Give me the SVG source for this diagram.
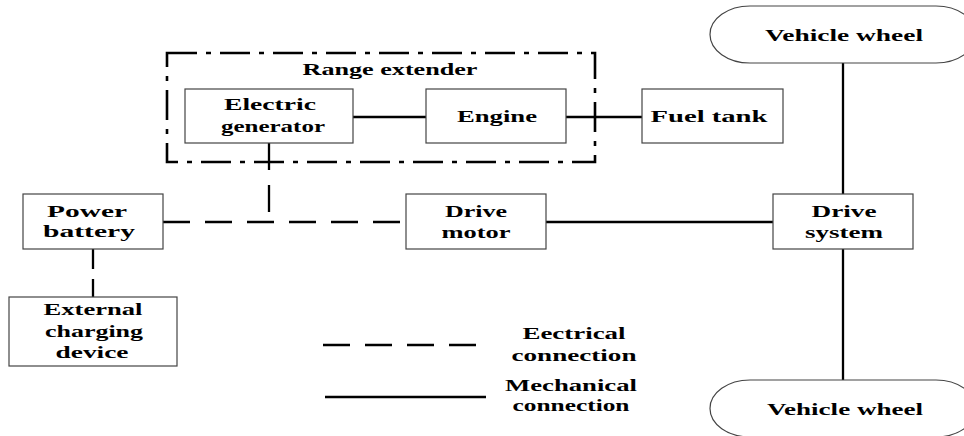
<svg xmlns="http://www.w3.org/2000/svg" width="964" height="436" viewBox="0 0 964 436">
<style>
text{font-family:"Liberation Serif","Times New Roman",serif;font-weight:bold;font-size:17.5px;fill:#000;text-anchor:middle}
.box{fill:#fff;stroke:#444;stroke-width:1.2}
.solid{fill:none;stroke:#000;stroke-width:2.3}
.dash{fill:none;stroke:#000;stroke-width:2.3;stroke-dasharray:27 15}
.frame{fill:none;stroke:#000;stroke-width:2.6;stroke-dasharray:30 9 5 9}
</style>
<rect width="964" height="436" fill="#fff"/>
<g id="connectors">
<path class="solid" d="M353 117H426"/>
<path class="solid" d="M566 117H642"/>
<path class="dash" d="M269 143V222"/>
<path class="dash" d="M163 222H406"/>
<path class="dash" d="M93 249V297" style="stroke-dasharray:20 10"/>
<path class="solid" d="M546 222H773"/>
<path class="solid" d="M843 63V194"/>
<path class="solid" d="M843 249V380"/>
</g>
<g id="range-extender">
<rect class="frame" x="167" y="53" width="428" height="109"/>
<text x="390" y="75" textLength="175" lengthAdjust="spacingAndGlyphs">Range extender</text>
</g>
<g id="electric-generator">
<rect class="box" x="185" y="89" width="168" height="54"/>
<text x="270" y="110" textLength="92" lengthAdjust="spacingAndGlyphs">Electric</text>
<text x="273" y="132" textLength="104" lengthAdjust="spacingAndGlyphs">generator</text>
</g>
<g id="engine">
<rect class="box" x="426" y="89" width="140" height="54"/>
<text x="497" y="122" textLength="80" lengthAdjust="spacingAndGlyphs">Engine</text>
</g>
<g id="fuel-tank">
<rect class="box" x="642" y="89" width="141" height="54"/>
<text x="709" y="122" textLength="117" lengthAdjust="spacingAndGlyphs">Fuel tank</text>
</g>
<g id="power-battery">
<rect class="box" x="23" y="194" width="140" height="55"/>
<text x="87" y="217" textLength="80" lengthAdjust="spacingAndGlyphs">Power</text>
<text x="89" y="237" textLength="92" lengthAdjust="spacingAndGlyphs">battery</text>
</g>
<g id="external-charging-device">
<rect class="box" x="9" y="297" width="168" height="69"/>
<text x="93" y="315" textLength="99" lengthAdjust="spacingAndGlyphs">External</text>
<text x="94" y="337" textLength="98" lengthAdjust="spacingAndGlyphs">charging</text>
<text x="92" y="358" textLength="73" lengthAdjust="spacingAndGlyphs">device</text>
</g>
<g id="drive-motor">
<rect class="box" x="406" y="194" width="140" height="55"/>
<text x="476" y="217" textLength="62" lengthAdjust="spacingAndGlyphs">Drive</text>
<text x="476" y="238" textLength="69" lengthAdjust="spacingAndGlyphs">motor</text>
</g>
<g id="drive-system">
<rect class="box" x="773" y="194" width="140" height="55"/>
<text x="844" y="217" textLength="65" lengthAdjust="spacingAndGlyphs">Drive</text>
<text x="844" y="238" textLength="78" lengthAdjust="spacingAndGlyphs">system</text>
</g>
<g id="vehicle-wheel-top">
<rect class="box" x="710" y="6" width="266" height="57" rx="40" ry="28.5"/>
<text x="844" y="41" textLength="158" lengthAdjust="spacingAndGlyphs">Vehicle wheel</text>
</g>
<g id="vehicle-wheel-bottom">
<rect class="box" x="710" y="380" width="266" height="57" rx="40" ry="28.5"/>
<text x="845" y="415" textLength="156" lengthAdjust="spacingAndGlyphs">Vehicle wheel</text>
</g>
<g id="legend">
<path class="dash" d="M323 345H482"/>
<path class="solid" d="M325 397H486"/>
<text x="574" y="339" textLength="103" lengthAdjust="spacingAndGlyphs">Eectrical</text>
<text x="574" y="361" textLength="125" lengthAdjust="spacingAndGlyphs">connection</text>
<text x="571" y="391" textLength="132" lengthAdjust="spacingAndGlyphs">Mechanical</text>
<text x="571" y="411" textLength="117" lengthAdjust="spacingAndGlyphs">connection</text>
</g>
</svg>
